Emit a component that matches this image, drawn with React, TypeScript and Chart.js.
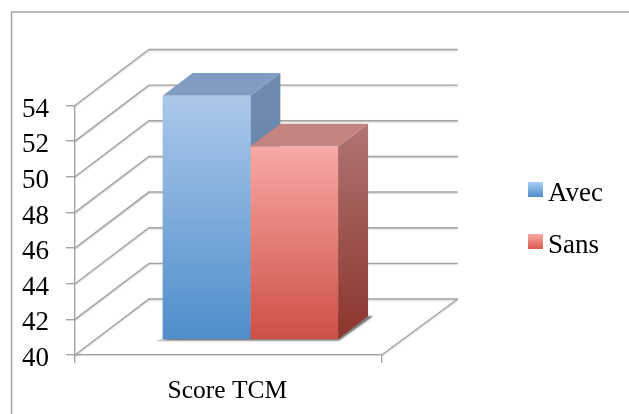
import React, { useEffect, useRef } from "react";
import { Chart, registerables } from "chart.js";

Chart.register(...registerables);

const categories = ["Score TCM"];
const avecValues = [53.65];
const sansValues = [50.8];
const seriesNames = ["Avec", "Sans"];
const yMin = 40;
const yMax = 54;
const yStep = 2;

const FONT = "'Liberation Serif', serif";
const GRID = "#a6a3a0";
const AREA = { left: 75, right: 381.7, top: 105.5, bottom: 355 };
const WALL = { dx: 74, dy: -56 };      // floor depth
const PLANE = { dx: 22, dy: -16 };     // where the bars stand on the floor
const BAR = { dx: 30, dy: -22.7 };     // bar depth

const palette = [
  { top: "#abc8ea", bottom: "#4f8ecb", roof: "#819cc2", sideTop: "#6f8bb0", sideBottom: "#5f80ab", swTop: "#a9cdf7", swBottom: "#4f8ecb" },
  { top: "#f8a8a5", bottom: "#cd5045", roof: "#c38380", sideTop: "#b07473", sideBottom: "#8b352c", swTop: "#fba9a3", swBottom: "#d9574e" },
];

function poly(ctx: CanvasRenderingContext2D, pts: number[][], fill: any) {
  ctx.beginPath();
  pts.forEach((p, i) => (i ? ctx.lineTo(p[0], p[1]) : ctx.moveTo(p[0], p[1])));
  ctx.closePath();
  ctx.fillStyle = fill;
  ctx.fill();
}

const bars3d = {
  id: "bars3d",
  beforeLayout(c: any) {
    const legend = c.legend;
    if (!legend.__fitPatched) {
      const fit = legend.fit.bind(legend);
      legend.fit = () => {
        fit();
        legend.width = 629 - AREA.right;
      };
      legend.__fitPatched = true;
    }
  },
  beforeDraw(chart: any) {
    const { ctx, width, height } = chart;
    ctx.save();
    ctx.fillStyle = "#ffffff";
    ctx.fillRect(0, 0, width, height);
    ctx.strokeStyle = "#a3a3a3";
    ctx.lineWidth = 1.5;
    ctx.beginPath();
    ctx.moveTo(11.5, height);
    ctx.lineTo(11.5, 12);
    ctx.lineTo(width, 12);
    ctx.stroke();
    ctx.restore();
  },
  afterLayout(chart: any) {
    const legend = chart.legend;
    legend.left = 528 - legend.options.labels.padding;
    legend.top = 155.5;
  },
  beforeDatasetsDraw(chart: any) {
    const { ctx, scales } = chart;
    const area = chart.chartArea;
    const y = scales.y;
    ctx.save();
    // walls and floor
    ctx.save();
    ctx.strokeStyle = GRID;
    ctx.lineWidth = 1.4;
    ctx.shadowColor = "rgba(0,0,0,0.18)";
    ctx.shadowBlur = 1.5;
    ctx.shadowOffsetY = 1;
    const backRight = area.right + WALL.dx + 2;
    y.ticks.forEach((t: any) => {
      const py = y.getPixelForValue(t.value);
      ctx.beginPath();
      ctx.moveTo(area.left, py);
      ctx.lineTo(area.left + WALL.dx, py + WALL.dy);
      ctx.lineTo(backRight, py + WALL.dy);
      ctx.stroke();
    });
    ctx.beginPath();
    ctx.moveTo(area.right, area.bottom);
    ctx.lineTo(backRight, area.bottom + WALL.dy);
    ctx.stroke();
    ctx.restore();

    const metas = [chart.getDatasetMeta(0), chart.getDatasetMeta(1)];
    const first = metas[0].data[0];
    const last = metas[1].data[0];
    const floorY = y.getPixelForValue(yMin) + PLANE.dy;
    if (first && last) {
      const l = first.x - first.width / 2 + PLANE.dx;
      const r = last.x + last.width / 2 + PLANE.dx;
      // soft shadow on the floor
      ctx.save();
      ctx.shadowColor = "rgba(60,60,60,0.55)";
      ctx.shadowBlur = 3;
      poly(ctx, [[l - 7, floorY + 1.5], [r + 1, floorY + 1.5], [r + BAR.dx + 5, floorY + BAR.dy], [r, floorY + BAR.dy]], "rgba(110,110,110,0.75)");
      ctx.restore();
      // roof and side of each bar, left to right, so that the right bar covers the left one
      metas.forEach((meta, i) => {
        const el = meta.data[0];
        const c = palette[i];
        const x1 = el.x + el.width / 2 + PLANE.dx;
        const x0 = el.x - el.width / 2 + PLANE.dx;
        const top = el.y + PLANE.dy;
        const bottom = floorY;
        const g = ctx.createLinearGradient(0, top + BAR.dy, 0, bottom);
        g.addColorStop(0, c.sideTop);
        g.addColorStop(1, c.sideBottom);
        poly(ctx, [[x1, top], [x1 + BAR.dx, top + BAR.dy], [x1 + BAR.dx, bottom + BAR.dy], [x1, bottom]], g);
        poly(ctx, [[x0, top], [x0 + BAR.dx, top + BAR.dy], [x1 + BAR.dx, top + BAR.dy], [x1, top]], c.roof);
      });
    }
    // front faces are drawn by Chart.js itself, moved into the bars' plane
    ctx.translate(PLANE.dx, PLANE.dy);
  },
  afterDatasetsDraw(chart: any) {
    chart.ctx.restore();
  },
  afterDraw(chart: any) {
    const { ctx } = chart;
    chart.legend.legendHitBoxes.forEach((hit: any, i: number) => {
      const c = palette[i];
      const cy = hit.top + hit.height / 2 - 4.5;
      const g = ctx.createLinearGradient(0, cy - 7.5, 0, cy + 7.5);
      g.addColorStop(0, c.swTop);
      g.addColorStop(1, c.swBottom);
      ctx.fillStyle = g;
      ctx.fillRect(hit.left, cy - 7.5, 15, 15);
    });
  },
};

function faceColor(i: number) {
  return (context: any) => {
    const c = palette[i];
    const chart = context.chart;
    if (!chart.chartArea || context.parsed == null) return c.bottom;
    const yScale = chart.scales.y;
    const g = chart.ctx.createLinearGradient(0, yScale.getPixelForValue(context.parsed.y), 0, yScale.getPixelForValue(yMin));
    g.addColorStop(0, c.top);
    g.addColorStop(1, c.bottom);
    return g;
  };
}

export default function App() {
  const ref = useRef<HTMLCanvasElement>(null);
  useEffect(() => {
    if (!ref.current) return;
    const chart = new Chart(ref.current, {
      type: "bar",
      data: {
        labels: categories,
        datasets: [
          { label: seriesNames[0], data: avecValues, backgroundColor: faceColor(0), borderWidth: 0 },
          { label: seriesNames[1], data: sansValues, backgroundColor: faceColor(1), borderWidth: 0 },
        ],
      },
      options: {
        responsive: false,
        animation: false,
        devicePixelRatio: 1,
        layout: { padding: { left: 0, right: 0, top: AREA.top, bottom: 0 } },
        categoryPercentage: 0.572,
        barPercentage: 1,
        plugins: {
          tooltip: { enabled: false },
          title: { display: false },
          legend: {
            position: "right",
            align: "start",
            labels: {
              boxWidth: 6.5,
              boxHeight: 8,
              padding: 25,
              color: "#000000",
              font: { family: FONT, size: 27 },
              generateLabels: () =>
                seriesNames.map((text, i) => ({
                  text,
                  fillStyle: "rgba(0,0,0,0)",
                  strokeStyle: "rgba(0,0,0,0)",
                  lineWidth: 0,
                  datasetIndex: i,
                  hidden: false,
                })),
            },
          },
        },
        scales: {
          x: {
            afterFit: (s: any) => { s.height = 414 - AREA.bottom; },
            grid: { drawOnChartArea: false, drawTicks: true, tickLength: 8, color: GRID, lineWidth: 1.4 },
            border: { color: GRID, width: 1.4 },
            ticks: { color: "#000000", padding: 13, labelOffset: -1, font: { family: FONT, size: 25.5 } },
          },
          y: {
            min: yMin,
            max: yMax,
            afterFit: (s: any) => { s.width = AREA.left; },
            grid: { drawOnChartArea: false, drawTicks: true, tickLength: 9, color: GRID, lineWidth: 1.4 },
            border: { color: GRID, width: 1.4 },
            ticks: { stepSize: yStep, color: "#000000", padding: 17, labelOffset: 4, font: { family: FONT, size: 27 } },
          },
        },
      } as any,
      plugins: [bars3d] as any,
    });
    return () => chart.destroy();
  }, []);
  return (
    <div style={{ position: "fixed", left: 0, top: 0, width: 629, height: 414, background: "#fff" }}>
      <canvas ref={ref} width={629} height={414} style={{ display: "block" }} />
    </div>
  );
}
